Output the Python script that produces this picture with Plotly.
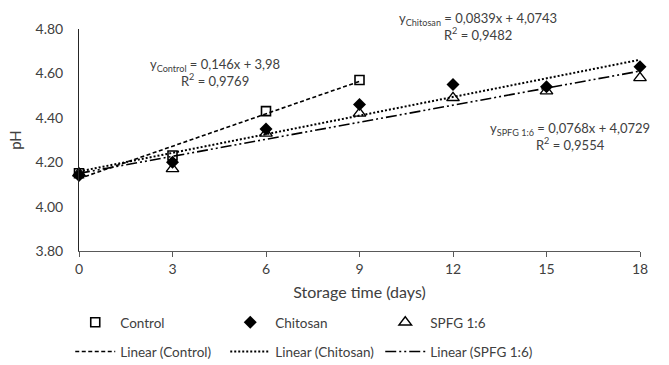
import plotly.graph_objects as go

days = [0, 3, 6, 9, 12, 15, 18]
control_days = [0, 3, 6, 9]
control_ph = [4.15, 4.23, 4.43, 4.57]
chitosan_ph = [4.14, 4.20, 4.35, 4.46, 4.55, 4.54, 4.63]
spfg_ph = [4.15, 4.17, 4.33, 4.42, 4.49, 4.52, 4.58]

# Trendline coefficients as printed (x = sample index 1..n)
trend_names = ["Control", "Chitosan", "SPFG 1:6"]
trend_slope = [0.146, 0.0839, 0.0768]
trend_intercept = [3.98, 4.0743, 4.0729]
trend_r2 = ["0,9769", "0,9482", "0,9554"]
trend_eq = ["0,146x + 3,98", "0,0839x + 4,0743", "0,0768x + 4,0729"]
trend_span = [[0, 9], [0, 18], [0, 18]]

y_ticks = [3.80, 4.00, 4.20, 4.40, 4.60, 4.80]
x_ticks = [0, 3, 6, 9, 12, 15, 18]

FONT = "Lato"
TXT = "#404040"

fig = go.Figure()

dashes = ["4px,2.5px", "2px,2px", "11px,3px,2px,3px,2px,3px"]
widths = [1.6, 2.0, 1.6]
for i, name in enumerate(trend_names):
    xs = trend_span[i]
    ys = [trend_slope[i] * (d / 3 + 1) + trend_intercept[i] for d in xs]
    fig.add_trace(go.Scatter(
        x=xs, y=ys, mode="lines", name=f"Linear ({name})",
        line=dict(color="black", width=widths[i], dash=dashes[i]),
        legend="legend2", hoverinfo="skip", cliponaxis=False))

fig.add_trace(go.Scatter(
    x=control_days, y=control_ph, mode="markers", name="Control", cliponaxis=False,
    marker=dict(symbol="square-open", size=9, color="black", line=dict(width=1.6))))
fig.add_trace(go.Scatter(
    x=days, y=chitosan_ph, mode="markers", name="Chitosan", cliponaxis=False,
    marker=dict(symbol="diamond", size=10, color="black")))
fig.add_trace(go.Scatter(
    x=days, y=spfg_ph, mode="markers", name="SPFG 1:6", cliponaxis=False,
    marker=dict(symbol="triangle-up-open", size=11, color="black", line=dict(width=1.4))))

subs = ["Control", "Chitosan", "SPFG 1:6"]
# (x in data units, y in paper units, 0 = x-axis, 1 = top of plot)
eq_xy = [(4.36, 0.806), (12.8, 1.013), (15.75, 0.517)]
for i in range(3):
    fig.add_annotation(
        x=eq_xy[i][0], y=eq_xy[i][1], xref="x", yref="paper",
        text=f"y<sub>{subs[i]}</sub> = {trend_eq[i]}<br>R<sup>2</sup> = {trend_r2[i]}",
        showarrow=False, align="center", yanchor="middle", xanchor="center",
        font=dict(family=FONT, size=13, color=TXT))

fig.update_layout(
    width=669, height=365,
    margin=dict(l=79, r=29, t=29, b=114),
    plot_bgcolor="white", paper_bgcolor="white",
    font=dict(family=FONT, size=13, color=TXT),
    xaxis=dict(range=[0, 18], tickvals=x_ticks, showgrid=False, zeroline=False,
               showline=True, linecolor="#595959", linewidth=1,
               ticks="outside", ticklen=5, tickcolor="#595959",
               tickfont=dict(size=14), automargin=False,
               title=dict(text="Storage time (days)", standoff=11, font=dict(size=16))),
    yaxis=dict(range=[3.80, 4.80], tickvals=y_ticks, tickformat=".2f",
               showgrid=False, zeroline=False,
               showline=True, linecolor="#262626", linewidth=1,
               ticks="", ticklabelstandoff=12, tickfont=dict(size=14), automargin=False,
               title=dict(text="pH", standoff=10, font=dict(size=15))),
    showlegend=True,
    legend=dict(orientation="h", xref="container", yref="container",
                x=0.105, xanchor="left", y=0.159, yanchor="top",
                entrywidth=100, itemwidth=40, font=dict(size=13.5),
                bgcolor="rgba(0,0,0,0)", traceorder="normal"),
    legend2=dict(orientation="h", xref="container", yref="container",
                 x=0.105, xanchor="left", y=0.079, yanchor="top",
                 entrywidth=100, itemwidth=40, font=dict(size=13.5),
                 bgcolor="rgba(0,0,0,0)", traceorder="normal"),
)

fig.write_html("out.html", config={"displayModeBar": False},
               post_script="document.body.style.margin='0';")
